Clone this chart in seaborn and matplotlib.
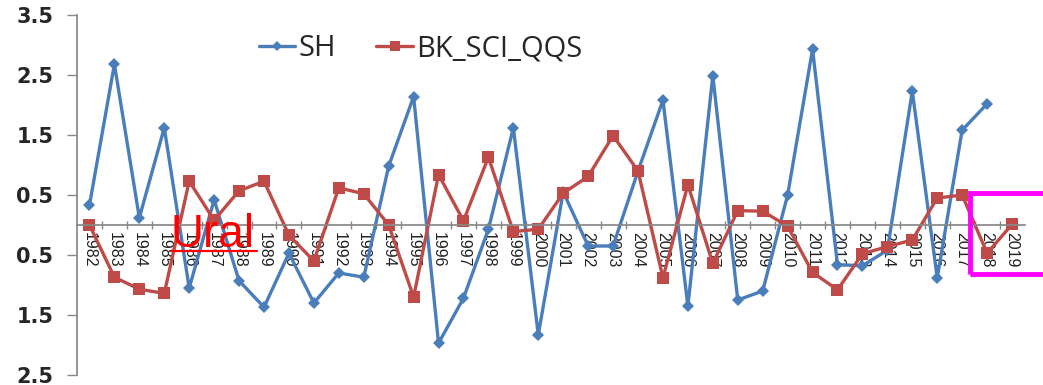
import numpy as np
import pandas as pd
import seaborn as sns
import matplotlib
matplotlib.use("Agg")
import matplotlib.pyplot as plt
from matplotlib.patches import Rectangle
from matplotlib.ticker import FixedLocator, FixedFormatter

# Annual index values, 1982-2019
years = list(range(1982, 2020))
sh = [0.33, 2.68, 0.12, 1.62, -1.05, 0.42, -0.93, -1.37, -0.47, -1.30,
      -0.80, -0.87, 0.98, 2.14, -1.97, -1.22, -0.07, 1.62, -1.83, 0.55,
      -0.35, -0.35, 0.90, 2.08, -1.35, 2.49, -1.25, -1.10, 0.50, 2.93,
      -0.66, -0.68, -0.42, 2.23, -0.88, 1.58, 2.02, np.nan]
bk_sci_qqs = [0.00, -0.87, -1.07, -1.14, 0.73, 0.08, 0.57, 0.73, -0.17, -0.60,
              0.62, 0.52, 0.00, -1.20, 0.84, 0.07, 1.13, -0.11, -0.07, 0.53,
              0.81, 1.49, 0.90, -0.88, 0.67, -0.64, 0.24, 0.23, -0.02, -0.79,
              -1.08, -0.48, -0.36, -0.25, 0.45, 0.50, -0.47, 0.01]
series_names = ["SH", "BK_SCI_QQS"]
ytick_values = [3.5, 2.5, 1.5, 0.5, -0.5, -1.5, -2.5]
ytick_labels = ["3.5", "2.5", "1.5", "0.5", "0.5", "1.5", "2.5"]

df = pd.DataFrame({
    "year": years * 2,
    "value": sh + bk_sci_qqs,
    "series": [series_names[0]] * len(years) + [series_names[1]] * len(years),
})

sns.set_theme(style="white")
plt.rcParams["font.family"] = ["Liberation Sans", "DejaVu Sans"]

fig = plt.figure(figsize=(10.43, 3.85), dpi=100)
ax = fig.add_axes([77 / 1043, 1 - 375 / 385, (1024.5 - 77) / 1043, 360 / 385])

palette = {"SH": "#4A7EBB", "BK_SCI_QQS": "#BE4B48"}
sns.lineplot(data=df, x="year", y="value", hue="series", style="series",
             palette=palette, markers={"SH": "D", "BK_SCI_QQS": "s"},
             dashes=False, linewidth=2.4, ax=ax, legend=False)
# marker sizes per series
for line, ms in zip(ax.lines, [6.5, 8.0]):
    line.set_markersize(ms)
    line.set_markeredgewidth(0)

ax.set_xlim(1981.5, 2019.5)
ax.set_ylim(-2.5, 3.5)
ax.set_xlabel("")
ax.set_ylabel("")

# y axis: tick labels as printed
ax.yaxis.set_major_locator(FixedLocator(ytick_values))
ax.yaxis.set_major_formatter(FixedFormatter(ytick_labels))
ax.tick_params(axis="y", which="major", left=True, direction="out", length=7,
               width=1, color="#888888", labelsize=15, pad=10)
for lbl in ax.get_yticklabels():
    lbl.set_fontweight("bold")
    lbl.set_family("DejaVu Sans")

# x axis crosses at zero
for side in ["top", "right"]:
    ax.spines[side].set_visible(False)
ax.spines["left"].set_color("#888888")
ax.spines["bottom"].set_color("#888888")
ax.spines["bottom"].set_position(("data", 0))
ax.set_xticks(years)
ax.set_xticklabels([str(y) for y in years], rotation=-90, fontsize=11.5,
                   color="#222222")
ax.set_xticks([y + 0.5 for y in years[:-1]], minor=True)
ax.tick_params(axis="x", which="major", bottom=True, length=0, pad=5)
ax.tick_params(axis="x", which="minor", bottom=True, direction="inout",
               length=6, width=1, color="#888888")
for lbl in ax.get_xticklabels():
    lbl.set_va("top")

# legend
handles = [plt.Line2D([], [], color=palette[n], marker=m, ms=ms, mew=0, lw=2.4)
           for n, m, ms in zip(series_names, ["D", "s"], [5, 6.5])]
ax.legend(handles, series_names, loc="upper left", bbox_to_anchor=(0.164, 1.02),
          ncol=2, frameon=False, handlelength=1.25,
          handletextpad=0.1, columnspacing=1.4,
          prop={"family": "Open Sans", "size": 21})

# region label
ax.text(1985.25, -0.36, "Ural", color="#FF0000", fontsize=33, ha="left",
        va="baseline", family="Liberation Sans")
ax.plot([1985.25, 1988.7], [-0.43, -0.43], color="#FF0000", lw=1.6)

# highlight box at the right edge
fig.add_artist(Rectangle((970 / 1043, 1 - 274 / 385), 0.1, 81 / 385,
                         transform=fig.transFigure, fill=False,
                         edgecolor="#FF00FF", lw=3.5, clip_on=False))

fig.savefig("out.png", dpi=100)
